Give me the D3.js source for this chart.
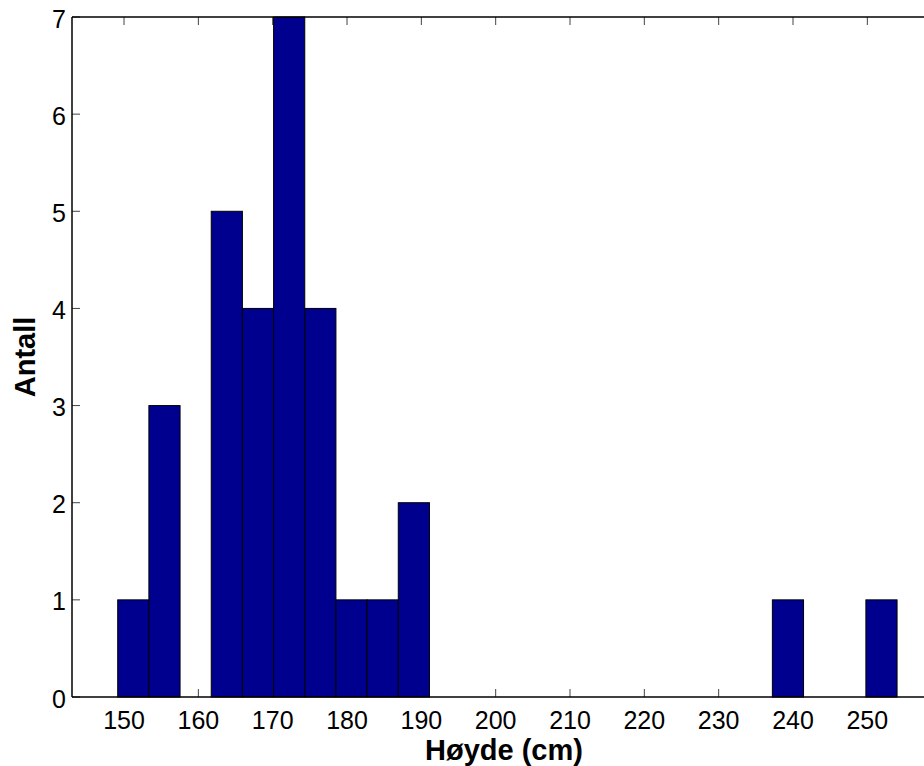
<!DOCTYPE html>
<html>
<head>
<meta charset="utf-8">
<script src="https://cdn.jsdelivr.net/npm/d3@7"></script>
<style>
body { margin: 0; background: #fff; }
svg { display: block; font-family: "Liberation Sans", Arial, Helvetica, sans-serif; }
</style>
</head>
<body>
<svg id="chart"></svg>
<script>
// histogram of heights, 25 bins between min and max
var histMin = 149.15
var histMax = 254.0
var counts = [1, 3, 0, 5, 4, 7, 4, 1, 1, 2, 0, 0, 0, 0, 0, 0, 0, 0, 0, 0, 0, 1, 0, 0, 1]
var xTicks = [150, 160, 170, 180, 190, 200, 210, 220, 230, 240, 250]
var yTicks = [0, 1, 2, 3, 4, 5, 6, 7]

var W = 924, H = 766
var mLeft = 72, mTop = 17, mBottom = 697
var pxPerUnit = 7.433

var svg = d3.select("#chart").attr("width", W).attr("height", H)

var x = d3.scaleLinear()
    .domain([143, 260])
    .range([mLeft, mLeft + 117 * pxPerUnit])
var y = d3.scaleLinear()
    .domain([0, 7])
    .range([mBottom, mTop])

var binW = (histMax - histMin) / counts.length
var bins = counts.map(function(c, i) {
    return { x0: histMin + i * binW, x1: histMin + (i + 1) * binW, n: c }
})

// tick marks (under the bars)
var tickLen = 8
var g = svg.append("g")
g.selectAll("line.xb").data(xTicks).enter().append("line")
    .attr("x1", d => x(d)).attr("x2", d => x(d))
    .attr("y1", mBottom).attr("y2", mBottom - tickLen)
    .attr("stroke", "#444").attr("stroke-width", 1)
g.selectAll("line.xt").data(xTicks).enter().append("line")
    .attr("x1", d => x(d)).attr("x2", d => x(d))
    .attr("y1", mTop).attr("y2", mTop + tickLen)
    .attr("stroke", "#444").attr("stroke-width", 1)
g.selectAll("line.yl").data(yTicks).enter().append("line")
    .attr("x1", mLeft).attr("x2", mLeft + tickLen)
    .attr("y1", d => y(d)).attr("y2", d => y(d))
    .attr("stroke", "#444").attr("stroke-width", 1)

// bars
svg.selectAll("rect.bar")
    .data(bins.filter(d => d.n > 0))
    .enter()
    .append("rect")
    .attr("class", "bar")
    .attr("x", d => x(d.x0))
    .attr("y", d => y(d.n))
    .attr("width", d => x(d.x1) - x(d.x0))
    .attr("height", d => y(0) - y(d.n))
    .attr("fill", "#00008f")
    .attr("stroke", "#000")
    .attr("stroke-width", 1)

// axis lines
svg.append("line").attr("x1", mLeft).attr("x2", W).attr("y1", mBottom).attr("y2", mBottom)
    .attr("stroke", "#000").attr("stroke-width", 1.5)
svg.append("line").attr("x1", mLeft).attr("x2", W).attr("y1", mTop).attr("y2", mTop)
    .attr("stroke", "#000").attr("stroke-width", 1.5)
svg.append("line").attr("x1", mLeft).attr("x2", mLeft).attr("y1", mTop).attr("y2", mBottom)
    .attr("stroke", "#000").attr("stroke-width", 1.5)

// tick labels
svg.selectAll("text.xl").data(xTicks).enter().append("text")
    .attr("x", d => x(d)).attr("y", 729)
    .attr("text-anchor", "middle")
    .attr("font-size", 25)
    .text(d => d)
svg.selectAll("text.yl").data(yTicks).enter().append("text")
    .attr("x", 66).attr("y", d => y(d) + 10.5)
    .attr("text-anchor", "end")
    .attr("font-size", 25)
    .text(d => d)

// axis titles
svg.append("text")
    .attr("x", 504).attr("y", 760)
    .attr("text-anchor", "middle")
    .attr("font-size", 29).attr("font-weight", "bold")
    .text("Høyde (cm)")
svg.append("text")
    .attr("transform", "translate(35,357) rotate(-90)")
    .attr("text-anchor", "middle")
    .attr("font-size", 29).attr("font-weight", "bold")
    .text("Antall")
</script>
</body>
</html>
